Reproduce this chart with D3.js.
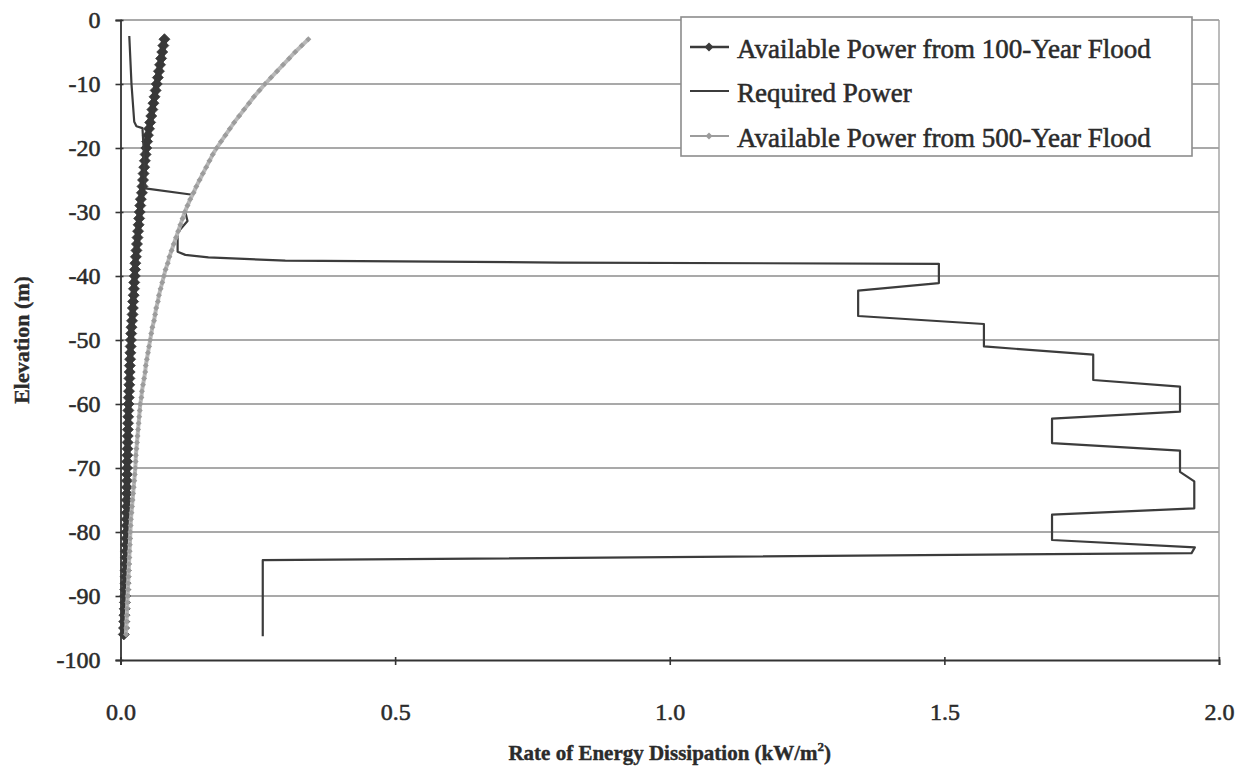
<!DOCTYPE html>
<html>
<head>
<meta charset="utf-8">
<script src="https://cdn.jsdelivr.net/npm/d3@7"></script>
<style>
  html, body { margin: 0; padding: 0; background: #ffffff; }
  svg { display: block; }
  text { font-family: "Liberation Serif", "Times New Roman", serif; fill: #2b2b2b; }
  .lbl { stroke: #2b2b2b; stroke-width: 0.55px; }
  .ttl { stroke: #2b2b2b; stroke-width: 0.4px; }
</style>
</head>
<body>
<svg id="chart" width="1238" height="766"></svg>
<script>
// Elevation (m) at which the available flood power was evaluated
const elevation = [
  -3, -4, -5, -6, -7, -8, -9, -10, -11, -12, -13, -14, -15, -16, -17, -18, -19, -20,
  -21, -22, -23, -24, -25, -26, -27, -28, -29, -30, -31, -32, -33, -34, -35, -36, -37, -38,
  -39, -40, -41, -42, -43, -44, -45, -46, -47, -48, -49, -50, -51, -52, -53, -54, -55, -56,
  -57, -58, -59, -60, -61, -62, -63, -64, -65, -66, -67, -68, -69, -70, -71, -72, -73, -74,
  -75, -76, -77, -78, -79, -80, -81, -82, -83, -84, -85, -86, -87, -88, -89, -90, -91, -92,
  -93, -94, -95, -96
];

// Available power, 100-year flood (kW/m2)
const power100 = [
  0.080, 0.078, 0.076, 0.074, 0.072, 0.070, 0.068, 0.066, 0.064, 0.062, 0.060, 0.058, 0.056, 0.054, 0.052, 0.050, 0.0485, 0.047,
  0.0457, 0.0444, 0.0432, 0.042, 0.041, 0.040, 0.039, 0.037, 0.036, 0.035, 0.034, 0.033, 0.032, 0.031, 0.030, 0.029, 0.028, 0.027,
  0.0265, 0.026, 0.025, 0.0245, 0.024, 0.023, 0.0225, 0.022, 0.021, 0.020, 0.0195, 0.019, 0.0185, 0.018, 0.0175, 0.017, 0.0167, 0.0163,
  0.016, 0.0155, 0.015, 0.0146, 0.0143, 0.014, 0.0137, 0.0134, 0.0132, 0.013, 0.0127, 0.0125, 0.0122, 0.012, 0.0119, 0.0118, 0.0117, 0.0116,
  0.0115, 0.0114, 0.0113, 0.0112, 0.0111, 0.011, 0.0107, 0.0105, 0.0102, 0.010, 0.0097, 0.0095, 0.0092, 0.009, 0.0087, 0.0085, 0.0081, 0.0077,
  0.0072, 0.0068, 0.0064, 0.006
];

// Available power, 500-year flood (kW/m2)
const power500 = [
  0.342, 0.330, 0.318, 0.307, 0.296, 0.285, 0.274, 0.263, 0.253, 0.243, 0.234, 0.225, 0.216, 0.207, 0.199, 0.191, 0.183, 0.175,
  0.168, 0.162, 0.156, 0.150, 0.144, 0.138, 0.133, 0.127, 0.122, 0.117, 0.113, 0.109, 0.105, 0.101, 0.097, 0.093, 0.089, 0.086,
  0.082, 0.079, 0.076, 0.073, 0.070, 0.068, 0.065, 0.063, 0.061, 0.058, 0.056, 0.054, 0.052, 0.050, 0.048, 0.046, 0.045, 0.043,
  0.041, 0.039, 0.038, 0.036, 0.035, 0.034, 0.033, 0.032, 0.031, 0.030, 0.029, 0.028, 0.0275, 0.027, 0.026, 0.025, 0.024, 0.023,
  0.022, 0.021, 0.020, 0.019, 0.0185, 0.018, 0.0175, 0.017, 0.0165, 0.016, 0.0155, 0.015, 0.0145, 0.014, 0.0135, 0.013, 0.0125, 0.012,
  0.0115, 0.011, 0.0105, 0.010
];

// Required power profile: dissipation rate (kW/m2) and elevation (m)
const reqPower = [
  0.016, 0.020, 0.025, 0.029, 0.040, 0.042, 0.044, 0.045, 0.131, 0.118, 0.122, 0.104, 0.104, 0.118, 0.160, 0.300, 0.800,
  1.490, 1.490, 1.343, 1.343, 1.572, 1.572, 1.771, 1.771, 1.929, 1.929, 1.696, 1.696, 1.929, 1.929,
  1.955, 1.955, 1.696, 1.696, 1.956, 1.950, 0.259, 0.259
];
const reqElev = [
  -2.5, -10, -15.9, -16.6, -16.9, -20, -24, -26.3, -27.3, -30, -31.4, -33.2, -36.2, -36.7, -37.1, -37.6, -37.9,
  -38.1, -41.1, -42.3, -46.25, -47.5, -51.0, -52.3, -56.25, -57.3, -61.2, -62.3, -66.1, -67.3, -70.6,
  -72.1, -76.3, -77.3, -81.25, -82.4, -83.3, -84.4, -96.3
];

const xTicks = [0, 0.5, 1.0, 1.5, 2.0];
const yTicks = [0, -10, -20, -30, -40, -50, -60, -70, -80, -90, -100];

const seriesNames = [
  "Available Power from 100-Year Flood",
  "Required Power",
  "Available Power from 500-Year Flood"
];

const svg = d3.select("#chart");
const plot = { left: 120.5, right: 1219, top: 20, bottom: 660 };
const serif = "'Liberation Serif', 'Times New Roman', serif";

const x = d3.scaleLinear().domain([0, 2]).range([plot.left, plot.right]);
const y = d3.scaleLinear().domain([-100, 0]).range([plot.bottom, plot.top]);

// horizontal gridlines
svg.append("g")
  .selectAll("line")
  .data(yTicks.filter(t => t > -100))
  .join("line")
  .attr("x1", plot.left).attr("x2", plot.right)
  .attr("y1", d => y(d)).attr("y2", d => y(d))
  .attr("stroke", "#8c8c8c").attr("stroke-width", 1.6);

// right frame edge
svg.append("line")
  .attr("x1", plot.right).attr("x2", plot.right)
  .attr("y1", plot.top).attr("y2", plot.bottom)
  .attr("stroke", "#a0a0a0").attr("stroke-width", 1.4);

// y axis (ticks cross the axis line)
const yAxis = d3.axisLeft(y).tickValues(yTicks).tickSize(5).tickPadding(15)
  .tickFormat(d => String(d));
const gy = svg.append("g").attr("transform", `translate(${plot.left},0)`).call(yAxis);
gy.attr("font-family", serif);
gy.select(".domain").attr("stroke", "#333").attr("stroke-width", 1.8);
gy.selectAll(".tick line").attr("x2", -5).attr("x1", 3)
  .attr("stroke", "#333").attr("stroke-width", 1.6);
gy.selectAll(".tick text")
  .attr("class", "lbl")
  .attr("font-size", 24).attr("fill", "#2b2b2b")
  .style("font-family", serif);

// x axis
const xAxis = d3.axisBottom(x).tickValues(xTicks).tickSize(5).tickPadding(38)
  .tickFormat(d3.format(".1f"));
const gx = svg.append("g").attr("transform", `translate(0,${plot.bottom})`).call(xAxis);
gx.attr("font-family", serif);
gx.select(".domain").attr("stroke", "#333").attr("stroke-width", 1.8);
gx.selectAll(".tick line").attr("y1", -3).attr("y2", 5)
  .attr("stroke", "#333").attr("stroke-width", 1.6);
gx.selectAll(".tick text")
  .attr("class", "lbl")
  .attr("font-size", 24).attr("fill", "#2b2b2b")
  .style("font-family", serif);

// axis titles
const xTitle = svg.append("text")
  .attr("class", "ttl")
  .attr("x", (plot.left + plot.right) / 2).attr("y", 760)
  .attr("text-anchor", "middle")
  .attr("font-size", 21).attr("font-weight", "bold");
xTitle.append("tspan").text("Rate of Energy Dissipation (kW/m");
xTitle.append("tspan").attr("font-size", 13).attr("dy", -9).text("2");
xTitle.append("tspan").attr("dy", 9).text(")");

svg.append("text")
  .attr("class", "ttl")
  .attr("transform", `translate(29,${(plot.top + plot.bottom) / 2}) rotate(-90)`)
  .attr("text-anchor", "middle")
  .attr("font-size", 22).attr("font-weight", "bold")
  .text("Elevation (m)");

const diamond = r => `M0,${-r}L${r},0L0,${r}L${-r},0Z`;

const pts100 = elevation.map((e, i) => [power100[i], e]);
const pts500 = elevation.map((e, i) => [power500[i], e]);
const ptsReq = reqElev.map((e, i) => [reqPower[i], e]);

const line = d3.line().x(d => x(d[0])).y(d => y(d[1]));

// 100-year flood: heavy line with dense diamond markers
svg.append("path").datum(pts100)
  .attr("d", line).attr("fill", "none")
  .attr("stroke", "#353535").attr("stroke-width", 6);
svg.append("g").selectAll("path").data(pts100).join("path")
  .attr("d", diamond(5.5))
  .attr("transform", d => `translate(${x(d[0])},${y(d[1])})`)
  .attr("fill", "#383838").attr("stroke", "#383838").attr("stroke-width", 0.8);

// required power
svg.append("path").datum(ptsReq)
  .attr("d", line).attr("fill", "none")
  .attr("stroke", "#3c3c3c").attr("stroke-width", 2.2)
  .attr("stroke-linejoin", "round");

// 500-year flood: light line with small diamond markers
svg.append("path").datum(pts500)
  .attr("d", line).attr("fill", "none")
  .attr("stroke", "#b8b8b8").attr("stroke-width", 4);
svg.append("g").selectAll("path").data(pts500).join("path")
  .attr("d", diamond(3))
  .attr("transform", d => `translate(${x(d[0])},${y(d[1])})`)
  .attr("fill", "#9c9c9c").attr("stroke", "none");

// legend
const legend = svg.append("g");
legend.append("rect")
  .attr("x", 681).attr("y", 17).attr("width", 511).attr("height", 139)
  .attr("fill", "#ffffff").attr("stroke", "#8c8c8c").attr("stroke-width", 1.6);

const rowY = [47, 91, 136];
const symStyles = [
  { stroke: "#3a3a3a", width: 2.4, marker: 4.5, fill: "#3a3a3a" },
  { stroke: "#3c3c3c", width: 2.0, marker: 0, fill: "none" },
  { stroke: "#9c9c9c", width: 2.0, marker: 3.5, fill: "#9c9c9c" }
];
seriesNames.forEach((name, i) => {
  const s = symStyles[i];
  legend.append("line")
    .attr("x1", 690).attr("x2", 729).attr("y1", rowY[i]).attr("y2", rowY[i])
    .attr("stroke", s.stroke).attr("stroke-width", s.width);
  if (s.marker > 0) {
    legend.append("path").attr("d", diamond(s.marker))
      .attr("transform", `translate(709,${rowY[i]})`)
      .attr("fill", s.fill);
  }
  legend.append("text")
    .attr("class", "lbl")
    .attr("x", 737).attr("y", rowY[i] + 11)
    .attr("font-size", 27)
    .text(name);
});
</script>
</body>
</html>
